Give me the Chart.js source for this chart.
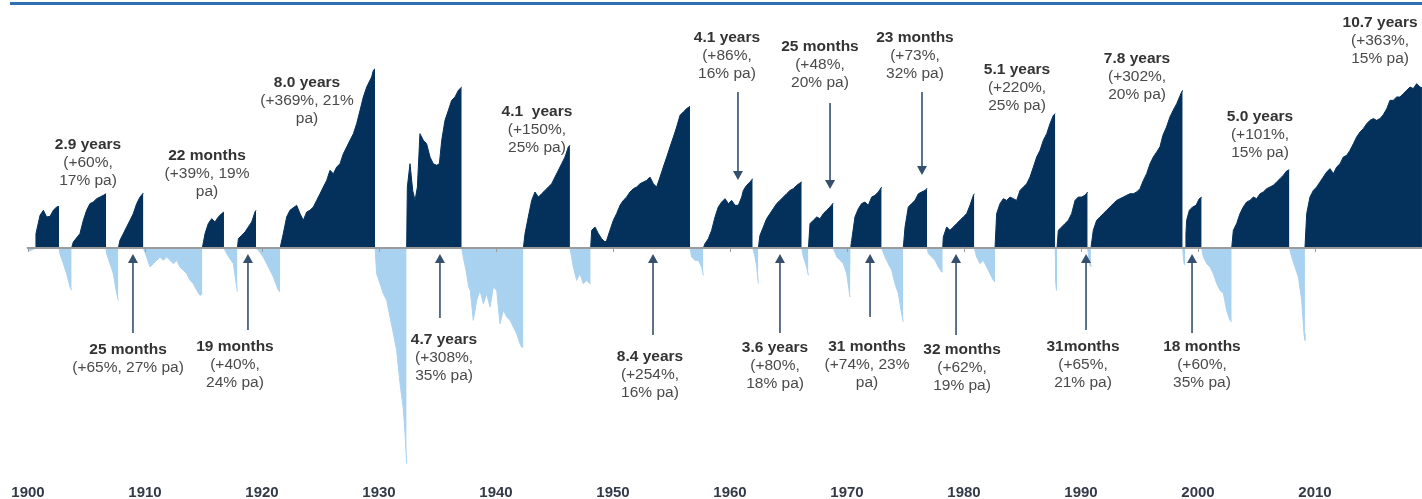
<!DOCTYPE html>
<html>
<head>
<meta charset="utf-8">
<script src="https://cdn.jsdelivr.net/npm/chart.js@4.4.1/dist/chart.umd.min.js"></script>
<style>
  html, body { margin: 0; padding: 0; background: #fff; }
  #wrap { width: 1422px; height: 499px; position: relative; }
</style>
</head>
<body>
<div id="wrap"><canvas id="cycleChart"></canvas></div>
<script>
// Bull and bear markets since 1900. Values are log changes from the start of
// each run (100 * ln(index / index at start)), so the chart reads like a log scale.
const bullYears = [
    [1900.60, 1900.68, 1901.03, 1901.31, 1901.60, 1901.88, 1902.17, 1902.45, 1902.65],
    [1903.73, 1903.87, 1904.44, 1904.73, 1905.01, 1905.30, 1905.58, 1905.87, 1906.15, 1906.44, 1906.67],
    [1907.72, 1907.86, 1908.15, 1908.43, 1908.72, 1909.00, 1909.29, 1909.57, 1909.86],
    [1914.90, 1915.13, 1915.41, 1915.70, 1915.98, 1916.27, 1916.55, 1916.75],
    [1917.90, 1917.98, 1918.26, 1918.55, 1918.83, 1919.12, 1919.40, 1919.49],
    [1921.55, 1921.82, 1922.11, 1922.39, 1922.96, 1923.25, 1923.53, 1923.82, 1924.10, 1924.39, 1924.67, 1924.96, 1925.24, 1925.53, 1925.81, 1926.10, 1926.38, 1926.67, 1926.95, 1927.24, 1927.52, 1927.81, 1928.09, 1928.38, 1928.66, 1928.95, 1929.23, 1929.37, 1929.52, 1929.66],
    [1932.36, 1932.42, 1932.65, 1932.88, 1933.08, 1933.28, 1933.50, 1933.79, 1934.07, 1934.36, 1934.64, 1934.93, 1935.16, 1935.36, 1935.64, 1935.93, 1936.21, 1936.50, 1936.78, 1937.07],
    [1942.34, 1942.48, 1942.76, 1943.05, 1943.33, 1943.62, 1943.90, 1944.19, 1944.47, 1944.76, 1945.04, 1945.33, 1945.61, 1945.90, 1946.18, 1946.32],
    [1948.09, 1948.18, 1948.46, 1948.75, 1949.03, 1949.32, 1949.46, 1949.74, 1950.03, 1950.31, 1950.60, 1950.88, 1951.17, 1951.45, 1951.74, 1952.02, 1952.31, 1952.59, 1952.88, 1953.16, 1953.45, 1953.73, 1954.02, 1954.30, 1954.59, 1954.87, 1955.16, 1955.44, 1955.73, 1956.01, 1956.30, 1956.58],
    [1957.72, 1957.86, 1958.15, 1958.43, 1958.72, 1959.00, 1959.29, 1959.57, 1959.86, 1960.14, 1960.43, 1960.71, 1961.00, 1961.14, 1961.42, 1961.71, 1961.94],
    [1962.42, 1962.56, 1962.85, 1963.13, 1963.42, 1963.70, 1963.99, 1964.27, 1964.56, 1964.84, 1965.13, 1965.41, 1965.70, 1965.98, 1966.13],
    [1966.70, 1966.84, 1967.12, 1967.41, 1967.69, 1967.98, 1968.26, 1968.55, 1968.83],
    [1970.31, 1970.40, 1970.68, 1970.97, 1971.25, 1971.54, 1971.82, 1972.11, 1972.39, 1972.68, 1972.96],
    [1974.81, 1974.96, 1975.24, 1975.53, 1975.81, 1976.10, 1976.38, 1976.67, 1976.85],
    [1978.18, 1978.23, 1978.52, 1978.80, 1979.09, 1979.37, 1979.66, 1979.94, 1980.23, 1980.51, 1980.80, 1980.88],
    [1982.65, 1982.79, 1983.08, 1983.36, 1983.65, 1983.93, 1984.22, 1984.50, 1984.79, 1985.07, 1985.36, 1985.64, 1985.93, 1986.21, 1986.50, 1986.78, 1987.07, 1987.35, 1987.64, 1987.80],
    [1987.95, 1988.06, 1988.35, 1988.63, 1988.92, 1989.20, 1989.49, 1989.77, 1990.06, 1990.34, 1990.57],
    [1990.85, 1991.05, 1991.34, 1991.62, 1991.91, 1992.19, 1992.48, 1992.76, 1993.05, 1993.33, 1993.62, 1993.90, 1994.19, 1994.47, 1994.76, 1995.04, 1995.33, 1995.61, 1995.90, 1996.18, 1996.47, 1996.75, 1997.00, 1997.30, 1997.60, 1997.89, 1998.18, 1998.60, 1998.69],
    [1998.90, 1998.97, 1999.03, 1999.26, 1999.54, 1999.83, 2000.11, 2000.31],
    [2002.88, 2003.02, 2003.30, 2003.59, 2003.87, 2004.16, 2004.44, 2004.73, 2005.01, 2005.30, 2005.58, 2005.87, 2006.15, 2006.44, 2006.72, 2007.01, 2007.29, 2007.58, 2007.81],
    [2009.14, 2009.29, 2009.57, 2009.86, 2010.14, 2010.43, 2010.71, 2011.00, 2011.28, 2011.57, 2011.85, 2012.14, 2012.42, 2012.71, 2012.99, 2013.28, 2013.56, 2013.85, 2014.13, 2014.42, 2014.70, 2014.99, 2015.27, 2015.56, 2015.84, 2016.13, 2016.41, 2016.69, 2016.98, 2017.26, 2017.55, 2017.83, 2018.12, 2018.40, 2018.69, 2018.97, 2019.14]
];
const bullValues = [
    [0, 12.5, 28.4, 32.8, 27.0, 27.5, 32.8, 35.7, 36.2],
    [0, 5.2, 12.5, 24.1, 32.8, 38.6, 40.0, 42.9, 44.3, 45.8, 47.2],
    [0, 6.7, 12.5, 18.3, 24.1, 29.9, 38.6, 44.3, 47.8],
    [0, 12.5, 21.2, 25.5, 22.6, 27.0, 29.9, 31.3],
    [0, 8.1, 11.0, 13.9, 18.3, 22.6, 31.3, 32.8],
    [0, 12.5, 27.0, 32.8, 37.1, 29.9, 24.1, 31.3, 32.8, 35.7, 41.4, 47.2, 53.0, 58.8, 67.5, 64.6, 70.4, 73.3, 82.0, 87.8, 93.6, 99.4, 108.1, 119.7, 131.3, 140.0, 145.8, 148.7, 154.5, 155.9],
    [0, 53.0, 73.3, 50.1, 41.4, 53.0, 99.4, 93.6, 90.7, 79.1, 73.3, 71.9, 73.3, 93.6, 111.0, 119.7, 128.4, 131.3, 137.1, 140.0],
    [0, 12.5, 27.0, 41.4, 48.7, 44.3, 47.2, 50.1, 53.0, 55.9, 61.7, 67.5, 73.3, 79.1, 87.8, 89.3],
    [0, 15.4, 18.3, 12.5, 8.1, 5.2, 6.7, 15.4, 24.1, 29.9, 37.1, 41.4, 44.3, 48.7, 51.6, 53.0, 55.9, 57.4, 58.8, 61.7, 55.9, 53.0, 61.7, 70.4, 79.1, 87.8, 96.5, 105.2, 115.4, 118.3, 121.2, 123.2],
    [0, 3.8, 8.1, 15.4, 27.0, 35.7, 40.0, 42.9, 38.6, 41.4, 37.1, 37.1, 44.3, 50.1, 54.5, 57.4, 60.3],
    [0, 11.0, 18.3, 25.5, 29.9, 34.2, 38.6, 41.4, 44.3, 47.2, 50.1, 51.6, 54.5, 56.5, 57.4],
    [0, 21.2, 24.1, 27.0, 25.5, 29.9, 32.8, 35.7, 39.1],
    [0, 6.7, 27.0, 34.2, 38.6, 40.0, 37.1, 44.3, 45.8, 48.7, 53.0],
    [0, 18.3, 35.7, 38.6, 41.4, 47.2, 48.7, 50.1, 52.0],
    [0, 9.6, 18.3, 15.4, 18.3, 21.2, 24.1, 27.0, 29.9, 37.1, 45.8, 47.2],
    [0, 29.9, 38.6, 42.9, 41.4, 44.3, 42.9, 41.4, 50.1, 53.0, 55.9, 61.7, 70.4, 79.1, 84.9, 93.6, 99.4, 108.1, 115.4, 116.8],
    [0, 15.4, 18.3, 21.2, 24.1, 29.9, 41.4, 44.3, 44.3, 45.8, 48.7],
    [0, 15.4, 24.1, 27.0, 29.9, 32.8, 35.7, 38.6, 41.4, 42.9, 44.3, 45.8, 47.2, 47.2, 48.7, 51.6, 58.8, 64.6, 73.3, 79.1, 83.5, 88.0, 98.0, 105.0, 113.9, 120.0, 125.5, 135.7, 137.1],
    [0, 12.5, 24.1, 32.8, 35.7, 37.1, 42.9, 44.3],
    [0, 15.4, 21.2, 29.9, 35.7, 40.0, 41.4, 44.3, 42.9, 47.2, 48.7, 51.6, 53.0, 54.5, 57.4, 60.3, 63.2, 67.0, 68.1],
    [0, 29.9, 44.3, 50.1, 53.0, 57.4, 61.7, 66.1, 69.0, 64.6, 70.4, 73.3, 79.1, 80.6, 84.9, 90.7, 96.5, 100.9, 103.8, 108.1, 111.0, 112.5, 111.0, 112.5, 116.0, 121.0, 128.4, 128.4, 131.3, 131.3, 134.2, 137.1, 140.0, 138.6, 142.9, 140.0, 139.4]
];

const bearYears = [
    [1899.90, 1900.15, 1900.40, 1900.60],
    [1902.65, 1902.73, 1903.02, 1903.30, 1903.59, 1903.73],
    [1906.67, 1906.72, 1907.01, 1907.29, 1907.58, 1907.72],
    [1909.86, 1910.14, 1910.43, 1910.71, 1911.00, 1911.28, 1911.57, 1911.85, 1912.14, 1912.42, 1912.71, 1912.99, 1913.28, 1913.56, 1913.85, 1914.13, 1914.42, 1914.70, 1914.90],
    [1916.75, 1916.98, 1917.30, 1917.55, 1917.75, 1917.90],
    [1919.49, 1919.69, 1920.11, 1920.54, 1920.97, 1921.40, 1921.55],
    [1929.66, 1929.80, 1930.09, 1930.37, 1930.66, 1930.94, 1931.23, 1931.51, 1931.80, 1932.08, 1932.22, 1932.36],
    [1937.07, 1937.20, 1937.45, 1937.65, 1937.80, 1938.06, 1938.35, 1938.63, 1938.92, 1939.20, 1939.49, 1939.77, 1940.06, 1940.34, 1940.63, 1940.91, 1941.20, 1941.48, 1941.77, 1942.05, 1942.19, 1942.34],
    [1946.32, 1946.61, 1946.89, 1947.18, 1947.46, 1947.75, 1948.03, 1948.09],
    [1956.58, 1956.72, 1957.01, 1957.29, 1957.58, 1957.72],
    [1961.94, 1962.14, 1962.28, 1962.42],
    [1966.13, 1966.27, 1966.55, 1966.70],
    [1968.83, 1969.12, 1969.40, 1969.69, 1969.97, 1970.26, 1970.31],
    [1972.96, 1973.25, 1973.53, 1973.82, 1974.10, 1974.39, 1974.67, 1974.81],
    [1976.85, 1976.95, 1977.24, 1977.52, 1977.81, 1978.09, 1978.18],
    [1980.88, 1981.08, 1981.37, 1981.65, 1981.94, 1982.22, 1982.51, 1982.65],
    [1987.80, 1987.84, 1987.90, 1987.95],
    [1990.57, 1990.65, 1990.77, 1990.85],
    [1998.69, 1998.75, 1998.82, 1998.90],
    [2000.31, 2000.46, 2000.74, 2001.03, 2001.31, 2001.60, 2001.88, 2002.17, 2002.45, 2002.73, 2002.88],
    [2007.81, 2008.01, 2008.29, 2008.58, 2008.86, 2009.06, 2009.14]
];
const bearValues = [
    [0, -2.5, -1.5, 0],
    [0, -4.9, -13.6, -22.3, -33.9, -36.8],
    [0, -4.9, -13.6, -22.3, -39.7, -45.5],
    [0, -7.8, -16.5, -13.6, -10.7, -7.8, -10.7, -7.8, -10.7, -13.6, -10.7, -16.5, -19.4, -22.3, -28.1, -31.0, -36.8, -41.2, -39.7],
    [0, -4.9, -10.0, -13.6, -28.1, -38.0],
    [0, -2.0, -7.8, -16.5, -25.2, -36.8, -38.3],
    [0, -22.3, -31.0, -39.7, -45.5, -60.0, -74.5, -89.0, -118.0, -140.0, -160.0, -187.5],
    [0, -8.0, -20.0, -33.0, -37.0, -62.9, -45.5, -36.8, -48.4, -39.7, -51.3, -33.9, -36.8, -65.8, -54.2, -60.0, -62.9, -68.7, -74.5, -83.2, -86.1, -86.1],
    [0, -16.5, -28.1, -22.3, -31.0, -28.1, -31.0, -31.0],
    [0, -7.8, -10.7, -10.7, -16.5, -23.8],
    [0, -7.8, -16.5, -31.0],
    [0, -7.8, -16.5, -23.8],
    [0, -7.8, -10.7, -13.6, -22.3, -42.6, -42.6],
    [0, -7.8, -13.6, -19.4, -31.0, -39.7, -57.1, -64.3],
    [0, -4.9, -7.8, -10.7, -16.5, -20.9, -20.9],
    [0, -7.8, -13.6, -10.7, -16.5, -22.3, -28.1, -29.6],
    [0, -30.0, -36.8, -36.8],
    [0, -8.0, -15.0, -16.0],
    [0, -8.0, -14.0, -15.0],
    [0, -7.8, -13.6, -16.5, -22.3, -31.0, -36.8, -39.7, -54.2, -62.9, -64.3],
    [0, -7.8, -16.5, -25.2, -45.5, -74.5, -80.3]
];

const decades = [1900, 1910, 1920, 1930, 1940, 1950, 1960, 1970, 1980, 1990, 2000, 2010];

// Call-out texts: first line is the duration, then gain and annual rate
const calloutText = [
    ['2.9 years', '(+60%,', '17% pa)'],
    ['22 months', '(+39%, 19%', 'pa)'],
    ['8.0 years', '(+369%, 21%', 'pa)'],
    ['4.1  years', '(+150%,', '25% pa)'],
    ['4.1 years', '(+86%,', '16% pa)'],
    ['25 months', '(+48%,', '20% pa)'],
    ['23 months', '(+73%,', '32% pa)'],
    ['5.1 years', '(+220%,', '25% pa)'],
    ['7.8 years', '(+302%,', '20% pa)'],
    ['5.0 years', '(+101%,', '15% pa)'],
    ['10.7 years', '(+363%,', '15% pa)'],
    ['25 months', '(+65%, 27% pa)'],
    ['19 months', '(+40%,', '24% pa)'],
    ['4.7 years', '(+308%,', '35% pa)'],
    ['8.4 years', '(+254%,', '16% pa)'],
    ['3.6 years', '(+80%,', '18% pa)'],
    ['31 months', '(+74%, 23%', 'pa)'],
    ['32 months', '(+62%,', '19% pa)'],
    ['31months', '(+65%,', '21% pa)'],
    ['18 months', '(+60%,', '35% pa)']
];

// where each call-out sits, in chart units (year, log change); arrows run from -> to
const calloutPlace = [
    { year: 1905.13, value: 89.6 },
    { year: 1915.30, value: 80.0 },
    { year: 1923.85, value: 143.5 },
    { year: 1943.50, value: 118.3 },
    { year: 1959.74, value: 182.6, arrow: { year: 1960.68, from: 135.7, to: 59.1 } },
    { year: 1967.69, value: 174.8, arrow: { year: 1968.55, from: 126.1, to: 51.3 } },
    { year: 1975.81, value: 182.6, arrow: { year: 1976.41, from: 135.7, to: 63.5 } },
    { year: 1984.53, value: 154.8 },
    { year: 1994.79, value: 164.3 },
    { year: 2005.30, value: 113.9 },
    { year: 2015.56, value: 195.7 },
    { year: 1908.55, value: -88.7, arrow: { year: 1908.97, from: -73.9, to: -5.2 } },
    { year: 1917.69, value: -86.1, arrow: { year: 1918.80, from: -71.3, to: -5.2 } },
    { year: 1935.56, value: -80.0, arrow: { year: 1935.21, from: -60.9, to: -5.2 } },
    { year: 1953.16, value: -94.8, arrow: { year: 1953.42, from: -75.7, to: -5.2 } },
    { year: 1963.85, value: -87.0, arrow: { year: 1964.27, from: -73.9, to: -5.2 } },
    { year: 1971.71, value: -86.1, arrow: { year: 1971.97, from: -60.0, to: -5.2 } },
    { year: 1979.83, value: -88.7, arrow: { year: 1979.32, from: -75.7, to: -5.2 } },
    { year: 1990.17, value: -86.1, arrow: { year: 1990.43, from: -71.3, to: -5.2 } },
    { year: 2000.34, value: -86.1, arrow: { year: 1999.49, from: -73.9, to: -5.2 } }
];

// join the runs into one series, with a gap between runs
function toPoints(yearRuns, valueRuns) {
    const pts = [];
    yearRuns.forEach((run, i) => {
        run.forEach((yr, j) => pts.push({ x: yr, y: valueRuns[i][j] }));
        pts.push({ x: run[run.length - 1], y: null });
    });
    return pts;
}

const FONT = '"Liberation Sans", Arial, sans-serif';

function drawArrow(ctx, px, yFrom, yTo) {
    const dir = yTo > yFrom ? 1 : -1;
    const head = 9;
    ctx.beginPath();
    ctx.moveTo(px, yFrom);
    ctx.lineTo(px, yTo - dir * head);
    ctx.stroke();
    ctx.beginPath();
    ctx.moveTo(px, yTo);
    ctx.lineTo(px - 5, yTo - dir * head);
    ctx.lineTo(px + 5, yTo - dir * head);
    ctx.closePath();
    ctx.fill();
}

const decorPlugin = {
    id: 'decor',
    beforeDraw(chart) {
        const ctx = chart.ctx;
        ctx.save();
        ctx.fillStyle = '#2f6fb3';
        ctx.fillRect(10, 2, chart.width - 10, 3);
        ctx.restore();
    },
    afterDatasetsDraw(chart) {
        const { ctx, chartArea } = chart;
        const xs = chart.scales.x, ys = chart.scales.y;
        const y0 = ys.getPixelForValue(0);
        ctx.save();
        // zero line and decade ticks
        ctx.strokeStyle = '#9b9b9b';
        ctx.lineWidth = 2;
        ctx.beginPath();
        ctx.moveTo(xs.getPixelForValue(1899.9), y0);
        ctx.lineTo(chartArea.right, y0);
        ctx.stroke();
        ctx.lineWidth = 1;
        ctx.beginPath();
        decades.forEach(d => {
            const px = Math.round(xs.getPixelForValue(d)) + 0.5;
            ctx.moveTo(px, y0);
            ctx.lineTo(px, y0 + 4);
        });
        ctx.stroke();

        // call-outs
        ctx.textAlign = 'center';
        ctx.textBaseline = 'middle';
        calloutText.forEach((lines, i) => {
            const place = calloutPlace[i];
            const px = xs.getPixelForValue(place.year);
            const py = ys.getPixelForValue(place.value);
            lines.forEach((line, k) => {
                ctx.font = (k === 0 ? 'bold ' : '') + '15.5px ' + FONT;
                ctx.fillStyle = k === 0 ? '#333333' : '#4a4a4a';
                ctx.fillText(line, px, py + k * 18);
            });
            if (place.arrow) {
                ctx.strokeStyle = '#34506e';
                ctx.fillStyle = '#34506e';
                ctx.lineWidth = 1.6;
                drawArrow(ctx,
                    xs.getPixelForValue(place.arrow.year),
                    ys.getPixelForValue(place.arrow.from),
                    ys.getPixelForValue(place.arrow.to));
            }
        });
        ctx.restore();
    }
};

const ctx = document.getElementById('cycleChart').getContext('2d');
const cycleChart = new Chart(ctx, {
    type: 'line',
    data: {
        datasets: [{
            label: 'Bull markets',
            data: toPoints(bullYears, bullValues),
            backgroundColor: '#04315b',
            borderColor: '#04315b',
            borderWidth: 1,
            pointRadius: 0,
            fill: 'origin',
            spanGaps: false,
            tension: 0
        }, {
            label: 'Bear markets',
            data: toPoints(bearYears, bearValues),
            backgroundColor: '#a9d2f0',
            borderColor: '#a9d2f0',
            borderWidth: 1,
            pointRadius: 0,
            fill: 'origin',
            spanGaps: false,
            tension: 0
        }]
    },
    options: {
        responsive: true,
        maintainAspectRatio: false,
        animation: false,
        layout: { padding: 0 },
        plugins: {
            legend: { display: false },
            tooltip: { enabled: false }
        },
        scales: {
            x: {
                type: 'linear',
                min: 1897.607,
                max: 2019.145,
                afterBuildTicks: scale => {
                    scale.ticks = decades.map(v => ({ value: v }));
                },
                afterFit: scale => {
                    scale.height = 20;
                },
                ticks: {
                    callback: v => String(v),
                    autoSkip: false,
                    maxRotation: 0,
                    padding: 6,
                    color: '#333a48',
                    font: { family: FONT, size: 15, weight: 'bold', lineHeight: 1 }
                },
                grid: { display: false, drawTicks: false },
                border: { display: false }
            },
            y: {
                display: false,
                min: -200.87,
                max: 215.65
            }
        }
    },
    plugins: [decorPlugin]
});
</script>
</body>
</html>
